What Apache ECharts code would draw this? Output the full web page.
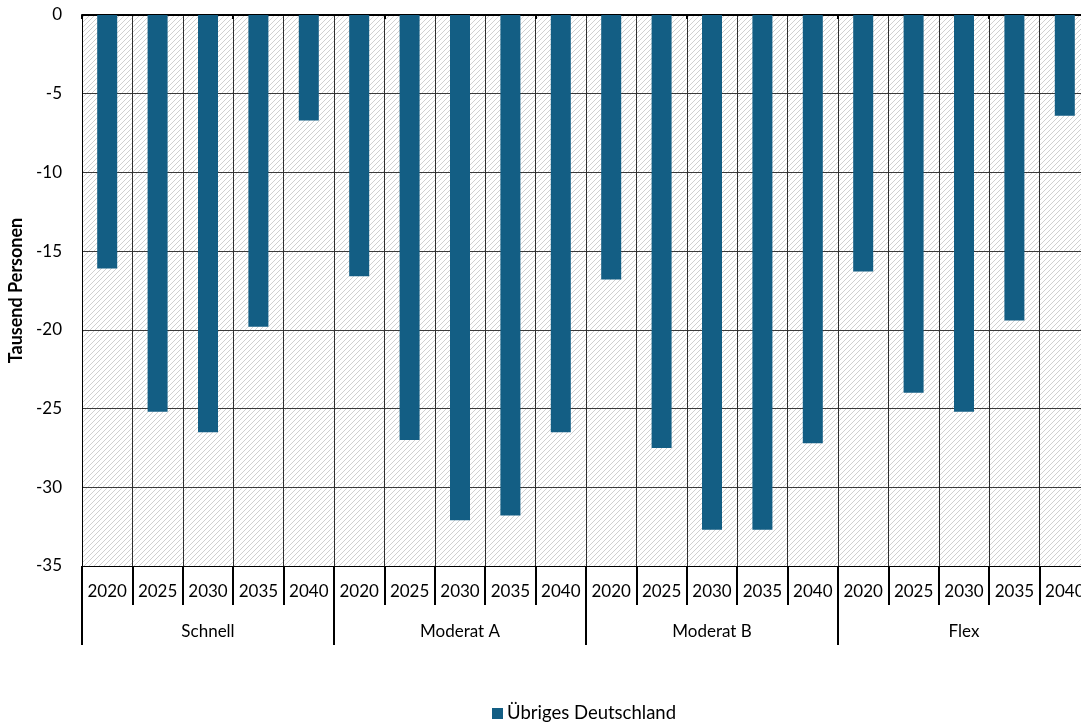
<!DOCTYPE html>
<html>
<head>
<meta charset="utf-8">
<script src="https://cdn.jsdelivr.net/npm/echarts@6/dist/echarts.min.js"></script>
<style>
  html, body { margin: 0; padding: 0; background: #fff; }
  #chart { width: 1081px; height: 722px; }
</style>
</head>
<body>
<div id="chart"></div>
<script>
// categories
var scenarios = ['Schnell', 'Moderat A', 'Moderat B', 'Flex'];
var years = ['2020', '2025', '2030', '2035', '2040'];

// Tausend Personen, per scenario in year order
var schnell = [-16.1, -25.2, -26.5, -19.8, -6.7];
var moderatA = [-16.6, -27.0, -32.1, -31.8, -26.5];
var moderatB = [-16.8, -27.5, -32.7, -32.7, -27.2];
var flex = [-16.3, -24.0, -25.2, -19.4, -6.4];

var yTicks = [0, -5, -10, -15, -20, -25, -30, -35];

var yearCats = [];
scenarios.forEach(function (s) {
  years.forEach(function (y) { yearCats.push(s + '|' + y); });
});
var values = schnell.concat(moderatA, moderatB, flex);

// hatched plot background
function hatch() {
  var c = document.createElement('canvas');
  c.width = 5;
  c.height = 5;
  var ctx = c.getContext('2d');
  ctx.fillStyle = '#fff';
  ctx.fillRect(0, 0, 5, 5);
  ctx.strokeStyle = '#d0d0d0';
  ctx.lineWidth = 1;
  ctx.beginPath();
  ctx.moveTo(-1, 6); ctx.lineTo(6, -1);
  ctx.moveTo(-1, 1); ctx.lineTo(1, -1);
  ctx.moveTo(4, 6); ctx.lineTo(6, 4);
  ctx.stroke();
  return c;
}

var font = 'Lato, "Open Sans", sans-serif';
var chart = echarts.init(document.getElementById('chart'));

var option = {
  animation: false,
  textStyle: { fontFamily: font },
  grid: {
    left: 82, top: 15, width: 1008, height: 551,
    containLabel: false,
    outerBoundsMode: 'none',
    show: true,
    borderWidth: 0,
    backgroundColor: { image: hatch(), repeat: 'repeat' }
  },
  legend: {
    data: ['Übriges Deutschland'],
    left: 487, top: 699,
    padding: 5,
    icon: 'rect', itemWidth: 11, itemHeight: 11, itemGap: 10,
    textStyle: { fontSize: 18.5, color: '#000', fontFamily: font, padding: [0, 0, 0, -1] }
  },
  xAxis: [
    {
      type: 'category',
      data: yearCats,
      position: 'bottom',
      axisLine: { onZero: false, lineStyle: { color: '#000', width: 1 } },
      axisTick: { show: true, length: 39, lineStyle: { color: '#000', width: 2 } },
      axisLabel: {
        interval: 0, margin: 17, fontSize: 17, color: '#000',
        formatter: function (v) { return v.split('|')[1]; }
      },
      splitLine: { show: true, lineStyle: { color: '#2e2e2e', width: 1 } }
    },
    {
      type: 'category',
      data: scenarios,
      position: 'bottom',
      axisLine: { show: false, onZero: false },
      axisTick: { show: true, length: 79, interval: 0, lineStyle: { color: '#000', width: 2 } },
      axisLabel: { interval: 0, margin: 57, fontSize: 17, color: '#000' },
      splitLine: { show: false }
    },
    {
      type: 'category',
      data: yearCats,
      position: 'top',
      axisLine: { onZero: false, lineStyle: { color: '#000', width: 2 } },
      axisTick: { show: true, inside: true, length: 4, lineStyle: { color: '#000', width: 2 } },
      axisLabel: { show: false },
      splitLine: { show: false }
    }
  ],
  yAxis: {
    type: 'value',
    min: -35, max: 0, interval: 5,
    name: 'Tausend Personen',
    nameLocation: 'middle',
    nameGap: 57,
    nameTextStyle: { fontSize: 18, fontWeight: 'bold', color: '#000', fontFamily: font },
    axisLine: { show: true, lineStyle: { color: '#000', width: 1 } },
    axisTick: { show: false },
    axisLabel: {
      fontSize: 17, color: '#000', margin: 20,
      formatter: function (v) { return yTicks.indexOf(v) >= 0 ? String(v) : ''; }
    },
    splitLine: { show: true, lineStyle: { color: '#3a3a3a', width: 1 } }
  },
  series: [{
    name: 'Übriges Deutschland',
    type: 'bar',
    xAxisIndex: 0,
    data: values,
    barWidth: 20,
    itemStyle: { color: '#135e84' }
  }]
};

chart.setOption(option);
</script>
</body>
</html>
